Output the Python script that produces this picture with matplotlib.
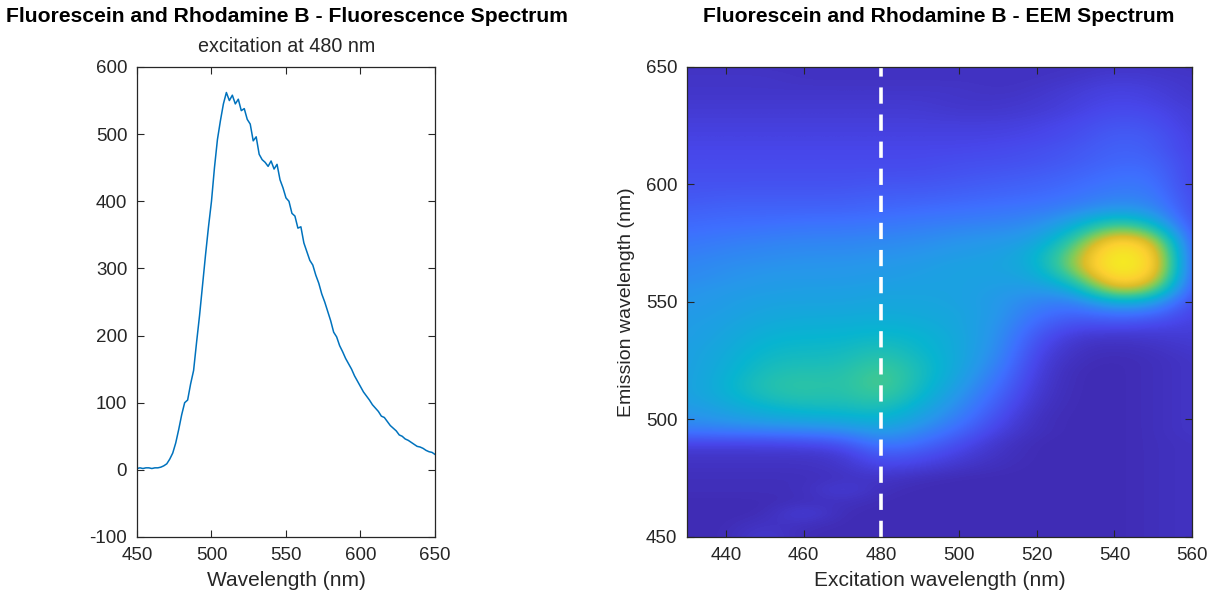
import numpy as np
import matplotlib
matplotlib.use('Agg')
import matplotlib.pyplot as plt
from matplotlib.colors import LinearSegmentedColormap

plt.rcParams['font.family'] = ['Liberation Sans', 'DejaVu Sans']
plt.rcParams['axes.unicode_minus'] = False

# emission spectrum at 480 nm excitation (2 nm steps, 450-650 nm)
wavelength = np.arange(450, 651, 2)
intensity = [2, 3, 2, 3, 3, 2, 3, 3, 4, 6,
             9, 16, 25, 40, 60, 82, 100, 104, 128, 148,
             190, 230, 275, 320, 362, 400, 450, 492, 520, 545,
             562, 550, 558, 545, 552, 535, 538, 522, 515, 490,
             496, 470, 462, 458, 452, 460, 448, 455, 432, 420,
             405, 400, 382, 378, 360, 362, 338, 325, 312, 305,
             290, 278, 262, 250, 236, 222, 205, 198, 185, 176,
             166, 158, 150, 140, 132, 124, 116, 110, 104, 97,
             92, 87, 80, 78, 72, 66, 62, 58, 52, 50,
             46, 44, 41, 38, 35, 34, 32, 29, 27, 26, 23]

# EEM map: excitation columns, emission rows (normalised intensity)
excitation = [430, 440, 450, 460, 470, 480, 490, 500, 510, 520, 530, 540, 550, 560]
emission = list(range(450, 651, 5))
eem = [
    [.02, .02, .07, .02, .02, .02, .02, .02, .02, .02, .02, .02, .03, .04],  # 450
    [.02, .02, .05, .03, .02, .02, .02, .02, .02, .02, .02, .02, .03, .04],  # 455
    [.02, .02, .02, .09, .02, .02, .02, .02, .02, .02, .02, .02, .03, .04],  # 460
    [.02, .02, .02, .03, .04, .02, .02, .02, .02, .02, .02, .02, .03, .04],  # 465
    [.03, .03, .03, .03, .08, .03, .02, .02, .02, .02, .02, .02, .03, .04],  # 470
    [.03, .03, .03, .03, .04, .05, .03, .02, .02, .02, .02, .02, .03, .04],  # 475
    [.04, .04, .04, .04, .05, .10, .08, .05, .03, .02, .02, .02, .03, .04],  # 480
    [.05, .05, .05, .05, .06, .16, .13, .08, .04, .02, .02, .02, .03, .04],  # 485
    [.10, .10, .10, .11, .13, .25, .20, .12, .05, .02, .02, .02, .03, .04],  # 490
    [.22, .23, .24, .25, .27, .33, .27, .18, .08, .03, .02, .02, .03, .05],  # 495
    [.28, .31, .34, .36, .37, .40, .33, .23, .11, .03, .02, .02, .03, .05],  # 500
    [.31, .35, .40, .43, .43, .46, .37, .27, .14, .04, .02, .02, .03, .05],  # 505
    [.33, .38, .45, .48, .46, .52, .41, .30, .17, .05, .02, .02, .03, .05],  # 510
    [.33, .39, .47, .49, .47, .55, .43, .33, .20, .06, .02, .02, .03, .05],  # 515
    [.33, .38, .45, .47, .46, .54, .44, .35, .23, .07, .02, .02, .03, .05],  # 520
    [.33, .37, .43, .44, .44, .50, .43, .36, .26, .08, .03, .02, .03, .05],  # 525
    [.33, .36, .41, .42, .42, .46, .41, .36, .28, .10, .04, .03, .04, .06],  # 530
    [.32, .35, .39, .40, .40, .42, .40, .36, .29, .13, .06, .05, .06, .07],  # 535
    [.32, .34, .37, .38, .38, .39, .38, .35, .30, .17, .11, .12, .10, .08],  # 540
    [.31, .33, .35, .36, .36, .37, .36, .35, .31, .21, .17, .22, .20, .08],  # 545
    [.30, .32, .34, .34, .34, .35, .35, .34, .31, .25, .24, .40, .35, .09],  # 550
    [.29, .31, .32, .33, .33, .34, .34, .34, .32, .30, .36, .70, .60, .10],  # 555
    [.27, .29, .31, .31, .31, .32, .33, .34, .33, .35, .50, .90, .78, .10],  # 560
    [.26, .28, .29, .30, .30, .31, .32, .34, .34, .37, .62, 1.0, .85, .10],  # 565
    [.24, .26, .27, .28, .28, .29, .30, .32, .33, .38, .60, .98, .83, .10],  # 570
    [.22, .24, .25, .26, .26, .27, .28, .30, .31, .34, .52, .88, .74, .10],  # 575
    [.20, .21, .22, .23, .23, .24, .25, .27, .28, .30, .42, .65, .54, .10],  # 580
    [.18, .19, .19, .20, .20, .21, .22, .23, .24, .26, .33, .45, .37, .10],  # 585
    [.16, .17, .17, .17, .17, .18, .19, .20, .21, .22, .25, .30, .28, .10],  # 590
    [.14, .15, .15, .15, .15, .16, .16, .17, .18, .19, .21, .25, .24, .10],  # 595
    [.13, .13, .13, .13, .13, .14, .14, .15, .16, .17, .19, .22, .22, .09],  # 600
    [.12, .12, .12, .12, .12, .12, .12, .13, .14, .15, .17, .20, .20, .09],  # 605
    [.11, .11, .11, .11, .11, .11, .11, .12, .12, .13, .15, .18, .18, .09],  # 610
    [.10, .10, .10, .10, .10, .10, .10, .10, .11, .12, .14, .17, .16, .08],  # 615
    [.09, .09, .09, .09, .09, .09, .09, .09, .09, .10, .12, .16, .15, .08],  # 620
    [.08, .08, .08, .08, .08, .08, .08, .08, .08, .09, .11, .14, .13, .07],  # 625
    [.07, .07, .07, .07, .07, .07, .07, .06, .06, .07, .09, .12, .11, .07],  # 630
    [.06, .06, .06, .06, .06, .06, .06, .05, .05, .06, .08, .10, .09, .06],  # 635
    [.05, .05, .05, .05, .05, .05, .05, .05, .04, .05, .07, .09, .08, .05],  # 640
    [.05, .05, .05, .04, .04, .04, .04, .04, .04, .04, .05, .07, .06, .05],  # 645
    [.04, .04, .04, .04, .04, .04, .04, .04, .04, .04, .04, .05, .05, .04],  # 650
]
excitation_line = 480

# parula-like colormap
parula = LinearSegmentedColormap.from_list('parula', [
    (0.2422, 0.1504, 0.6603), (0.2810, 0.2760, 0.9190), (0.2440, 0.4350, 0.9990),
    (0.1540, 0.5900, 0.9220), (0.0300, 0.7080, 0.8160), (0.1940, 0.7760, 0.6250),
    (0.5040, 0.7990, 0.3480), (0.8630, 0.7410, 0.1600), (0.9890, 0.8140, 0.1890),
    (0.9630, 0.9000, 0.1500), (0.9769, 0.9839, 0.0805)])

txt = (0.15, 0.15, 0.15)
fig = plt.figure(figsize=(12.1, 5.96), dpi=100)

# left: spectrum
ax1 = fig.add_axes([0.1132, 0.099, 0.2463, 0.7886])
ax1.plot(wavelength, intensity, color=(0, 0.447, 0.741), lw=1.1)
ax1.set_xlim(450, 650)
ax1.set_ylim(-100, 600)
ax1.set_xticks(range(450, 651, 50))
ax1.set_yticks(range(-100, 601, 100))
ax1.set_xlabel('Wavelength (nm)', fontsize=15, color=txt, labelpad=5)

# right: EEM
ax2 = fig.add_axes([0.5678, 0.099, 0.4174, 0.7886])
ax2.imshow(np.array(eem), origin='lower', cmap=parula, vmin=0, vmax=1,
           interpolation='bicubic', aspect='auto',
           extent=[425, 565, 447.5, 652.5])
ax2.axvline(excitation_line, color='white', lw=2.6, linestyle=(0, (4.5, 3)))
ax2.set_xlim(430, 560)
ax2.set_ylim(450, 650)
ax2.set_xticks(range(440, 561, 20))
ax2.set_yticks(range(450, 651, 50))
ax2.set_xlabel('Excitation wavelength (nm)', fontsize=15, color=txt, labelpad=5)
ax2.set_ylabel('Emission wavelength (nm)', fontsize=14, color=txt, labelpad=8)

for ax in (ax1, ax2):
    ax.tick_params(direction='in', length=5, width=0.8, top=True, right=True,
                   colors=txt, labelsize=13.5, pad=7)
    for s in ax.spines.values():
        s.set_color(txt)
        s.set_linewidth(0.9)

fig.text(287 / 1210, 1 - 17 / 596, 'Fluorescein and Rhodamine B - Fluorescence Spectrum',
         ha='center', va='center', fontsize=15.2, fontweight='bold', color='black')
fig.text(287 / 1210, 1 - 47 / 596, 'excitation at 480 nm',
         ha='center', va='center', fontsize=14.2, color=txt)
fig.text(939 / 1210, 1 - 17 / 596, 'Fluorescein and Rhodamine B - EEM Spectrum',
         ha='center', va='center', fontsize=15.2, fontweight='bold', color='black')

fig.savefig('out.png', dpi=100)
